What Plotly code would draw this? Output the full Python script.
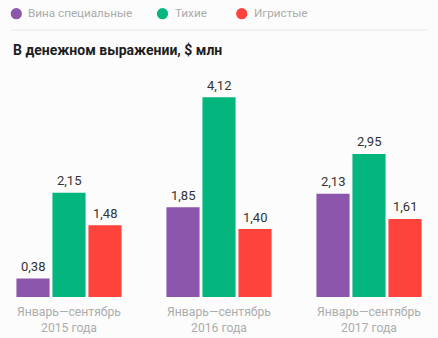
import plotly.graph_objects as go

categories = ["Январь—сентябрь<br>2015 года", "Январь—сентябрь<br>2016 года", "Январь—сентябрь<br>2017 года"]
series_names = ["Вина специальные", "Тихие", "Игристые"]
special = [0.38, 1.85, 2.13]
still = [2.15, 4.12, 2.95]
sparkling = [1.48, 1.40, 1.61]
colors = ["#8b56ab", "#04b67e", "#fd433b"]
title_text = "В денежном выражении, $ млн"

W, H = 438, 338
ML, MR, MT, MB = 0, 0, 70, 41
PH = H - MT - MB
PW = W - ML - MR
BARGAP = 0.28
SLOT = 150 * (1 - BARGAP) / 3


def px(x):
    return (x - ML) / PW


def py(y):
    return (H - MB - y) / PH


FONT = "Roboto, Inter, Arial, sans-serif"

fig = go.Figure()
annotations = []
for i, (name, vals, col) in enumerate(zip(series_names, [special, still, sparkling], colors)):
    fig.add_trace(go.Bar(
        x=categories, y=vals, name=name, marker_color=col,
        marker_line_width=0, showlegend=False, hoverinfo="skip",
    ))
    for c, v in zip(categories, vals):
        annotations.append(dict(x=c, y=v, xref="x", yref="y", text=f"{v:.2f}".replace(".", ","),
                                showarrow=False, xshift=(i - 1) * SLOT, yshift=12,
                                xanchor="center", yanchor="middle",
                                font=dict(size=13, color="#333333", family=FONT)))

# legend (manual)
legend_pos = [(16.3, 26), (162.5, 173), (241.7, 251.5)]
shapes = []
for (cx, tx), name, col in zip(legend_pos, series_names, colors):
    r = 5.6
    shapes.append(dict(type="circle", xref="paper", yref="paper",
                       x0=px(cx - r), x1=px(cx + r), y0=py(13.7 + r), y1=py(13.7 - r),
                       fillcolor=col, line_width=0))
    annotations.append(dict(text=name, xref="paper", yref="paper", x=px(tx), y=py(13.5),
                            xanchor="left", yanchor="middle", showarrow=False,
                            font=dict(size=11.7, color="#ababab", family=FONT)))

shapes.append(dict(type="line", xref="paper", yref="paper",
                   x0=px(11), x1=px(428), y0=py(30), y1=py(30),
                   line=dict(color="#e8eae8", width=1)))
annotations.append(dict(text="<b>" + title_text + "</b>", xref="paper", yref="paper",
                        x=px(11), y=py(50), xanchor="left", yanchor="middle",
                        showarrow=False, font=dict(size=14, color="#1e1e1e", family=FONT)))

fig.update_layout(
    width=W, height=H,
    margin=dict(l=ML, r=MR, t=MT, b=MB, autoexpand=False),
    barmode="group", bargap=BARGAP, bargroupgap=0.08,
    paper_bgcolor="#fbfcfb", plot_bgcolor="#fbfcfb",
    font=dict(family=FONT),
    shapes=shapes, annotations=annotations,
    xaxis=dict(range=[-0.46, 2.46], showgrid=False, zeroline=False, showline=False,
               automargin=False, ticks="", ticklabelstandoff=6,
               tickfont=dict(size=12.2, color="#adadad", family=FONT)),
    yaxis=dict(range=[0, PH / 48.5], visible=False, automargin=False),
)

fig.write_html("out.html", config={"displayModeBar": False},
               post_script="document.body.style.margin='0';document.body.style.background='#fbfcfb';")
